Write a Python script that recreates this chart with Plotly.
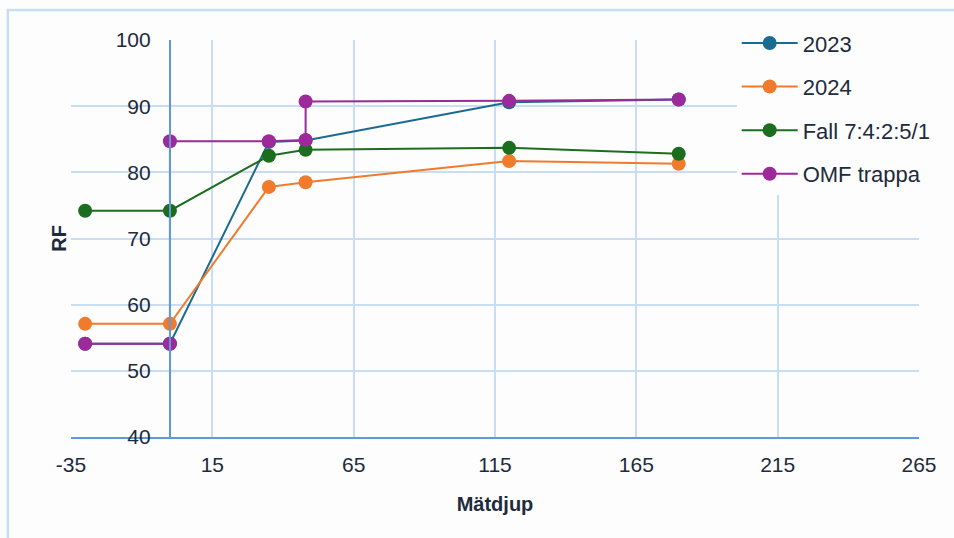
import plotly.graph_objects as go

# Measurement depths and RF readings per series
depth_2023 = [-30, 0, 35, 48, 120, 180]
rf_2023 = [54.1, 54.1, 84.6, 84.8, 90.6, 91.0]

depth_2024 = [-30, 0, 35, 48, 120, 180]
rf_2024 = [57.1, 57.1, 77.8, 78.5, 81.7, 81.3]

depth_fall = [-30, 0, 35, 48, 120, 180]
rf_fall = [74.2, 74.2, 82.5, 83.4, 83.7, 82.8]

depth_omf = [-30, 0, 0, 35, 48, 48, 120, 180]
rf_omf = [54.1, 54.1, 84.7, 84.7, 84.9, 90.7, 90.8, 91.0]

x_ticks = [-35, 15, 65, 115, 165, 215, 265]
x_tick_labels = ["-35", "15", "65", "115", "165", "215", "265"]
y_ticks = [40, 50, 60, 70, 80, 90, 100]

series = [
    ("2023", depth_2023, rf_2023, "#1b6a8f"),
    ("2024", depth_2024, rf_2024, "#f07b2c"),
    ("Fall 7:4:2:5/1", depth_fall, rf_fall, "#1c6e1f"),
    ("OMF trappa", depth_omf, rf_omf, "#9c2a9a"),
]

x_range = [-35, 265]
y_range = [40, 100]

FONT = "Liberation Sans, Arial, sans-serif"
TEXT = "#1d2b3c"
GRID = "#c9ddf3"
AXIS = "#5d9ad6"
BG = "#fdfdfd"

fig = go.Figure()
for i, (name, xs, ys, color) in enumerate(series):
    fig.add_trace(go.Scatter(
        x=xs, y=ys, name=name, mode="lines+markers",
        line=dict(color=color, width=2),
        marker=dict(color=color, size=14),
        legendgroup=f"g{i}",
    ))

fig.update_layout(
    width=954, height=538,
    margin=dict(l=71, r=35, t=40, b=101),
    paper_bgcolor=BG, plot_bgcolor=BG,
    font=dict(family=FONT, size=21, color=TEXT),
    showlegend=True,
    legend=dict(
        x=0.785, y=1.045, xanchor="left", yanchor="top",
        bgcolor=BG, borderwidth=0,
        font=dict(family=FONT, size=22, color=TEXT),
        itemwidth=56, tracegroupgap=12, traceorder="grouped",
    ),
    xaxis=dict(
        range=x_range, tickvals=x_ticks, ticktext=x_tick_labels, showgrid=True,
        gridcolor=GRID, gridwidth=1.5, zeroline=False,
        showline=True, linecolor=AXIS, linewidth=2,
        ticks="", ticklabelstandoff=8, tickfont=dict(size=21, color=TEXT),
        title=dict(text="<b>Mätdjup</b>", font=dict(size=20, color=TEXT), standoff=22),
    ),
    yaxis=dict(
        range=y_range, tickvals=y_ticks, showgrid=True, gridcolor=GRID, gridwidth=1.5,
        zeroline=False, anchor="free", position=35 / 300,
        showline=True, linecolor=AXIS, linewidth=2,
        ticks="", ticklabelstandoff=14, tickfont=dict(size=21, color=TEXT),
    ),
    annotations=[dict(
        text="<b>RF</b>", xref="paper", yref="paper", x=-0.015, y=0.5,
        xanchor="center", yanchor="middle", textangle=-90, showarrow=False,
        font=dict(family=FONT, size=20, color=TEXT),
    )],
    shapes=[dict(
        type="rect", xref="paper", yref="paper",
        x0=-0.0745, x1=1.2, y0=-0.4, y1=1.0756,
        line=dict(color=GRID, width=2.5), layer="below",
    )],
)

fig.write_html("out.html")
